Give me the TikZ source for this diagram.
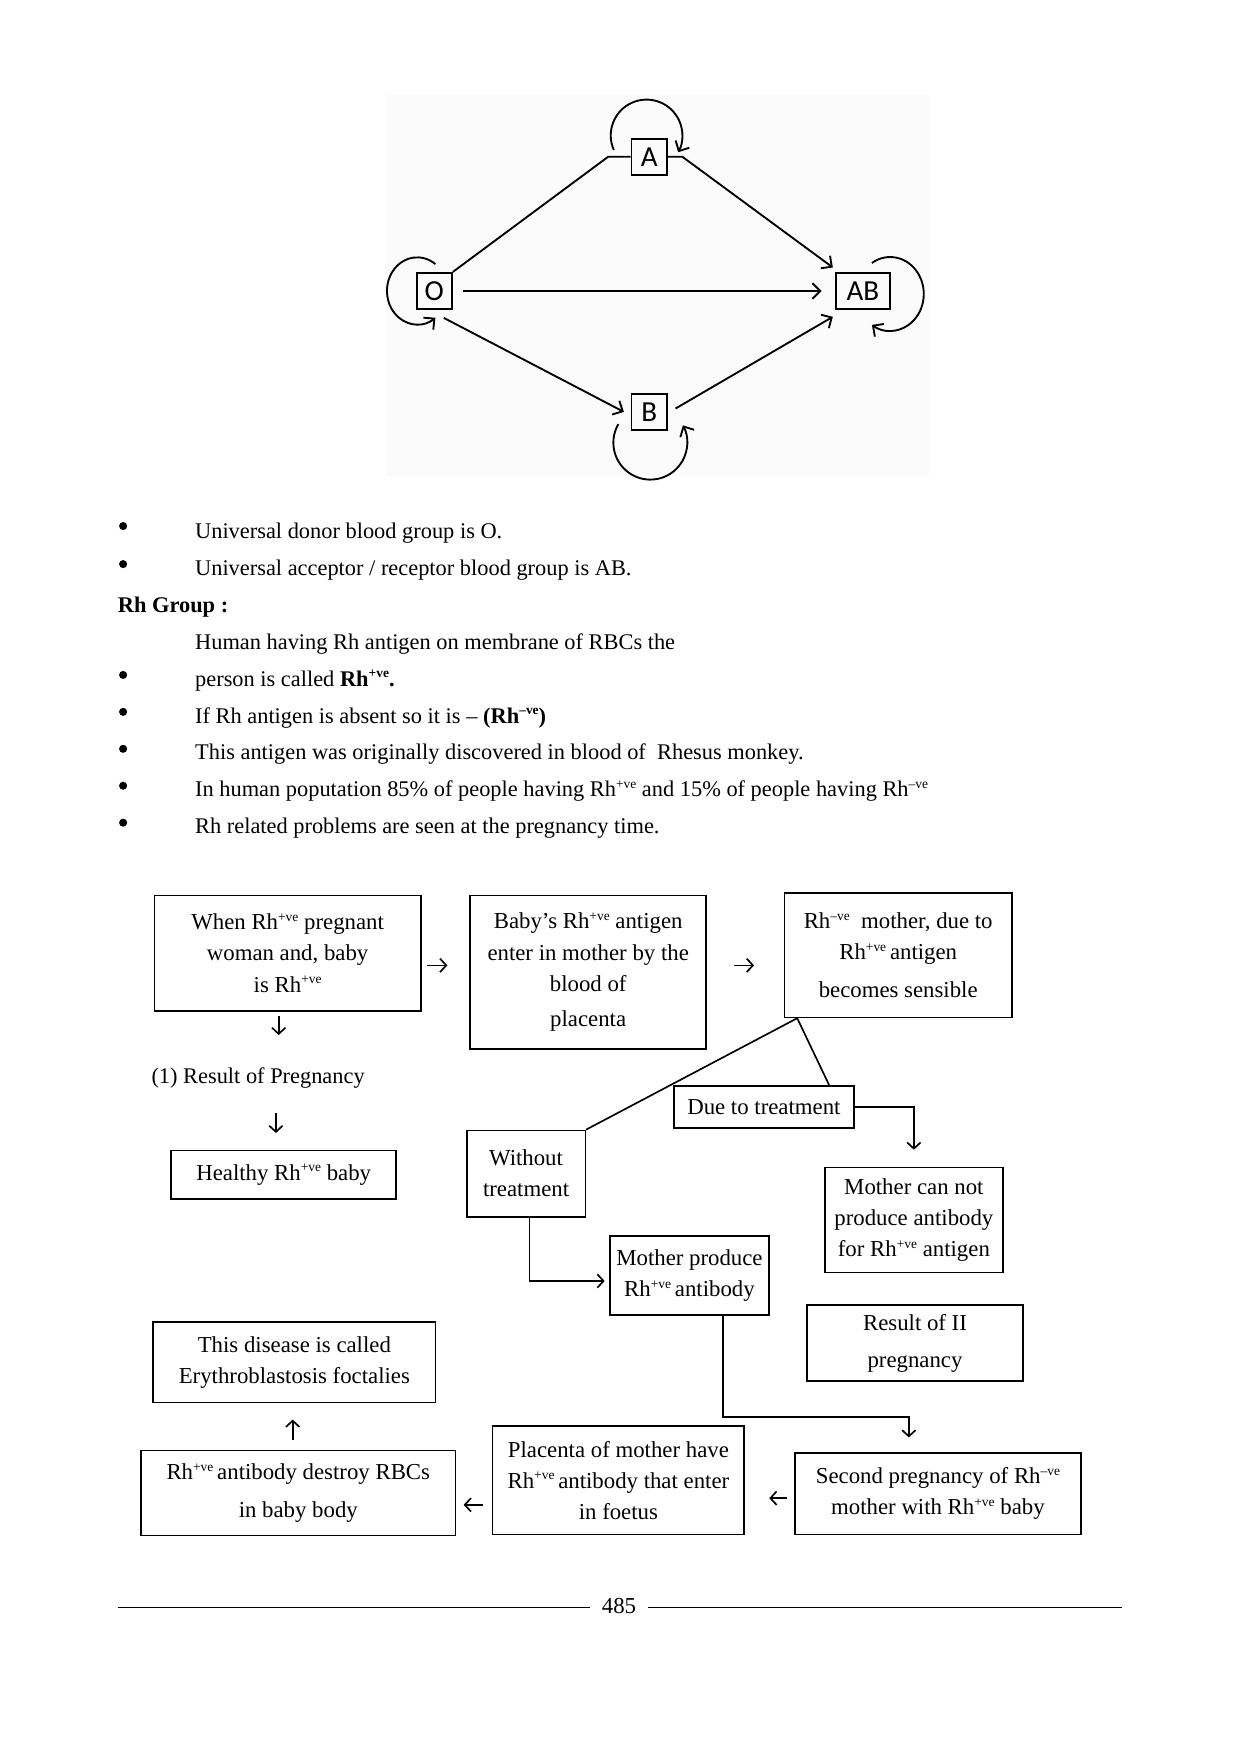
\documentclass[tikz,border=0pt]{standalone}
\usepackage{fontspec}
\setmainfont{Liberation Serif}
\newfontfamily\grpfont{Carlito}
\usetikzlibrary{positioning,calc,arrows.meta}
\newcommand{\up}[1]{\raisebox{0.8ex}{\fontsize{6.5}{7}\selectfont #1}}
\newcommand{\rhp}{Rh\up{+ve}}
\newcommand{\rhn}{Rh\up{--ve}}

\begin{document}
\begin{tikzpicture}[x=0.54pt, y=0.54pt,
    grp/.style={draw, line width=0.9pt, font=\grpfont\fontsize{14}{16}\selectfont, minimum width=17pt, minimum height=17.5pt, inner sep=2pt},
    flow/.style={draw, line width=0.8pt, inner sep=0pt, align=center, font=\fontsize{11}{15}\selectfont},
    txt/.style={anchor=base west, inner sep=0pt, font=\fontsize{10.8}{13}\selectfont},
    dot/.style={circle, fill, inner sep=0pt, minimum size=3.9pt},
    arr/.style={-{Straight Barb[length=3pt,width=6.5pt]}, line width=0.8pt},
    garr/.style={-{Straight Barb[length=3.8pt,width=7.5pt]}, line width=0.9pt}]
            \fill[white] (0,0) rectangle (1107.5,-1568);
            \useasboundingbox (0,0) rectangle (1107.5,-1568);
            \fill[black!1.5] (345,-85) rectangle (830,-425);

            % blood groups
            \node (A) [grp] at (580,-140) {A};
            \node (O) [grp] at (388,-260) {O};
            \node (AB) [grp, minimum width=26pt] at (771,-260) {AB};
            \node (B) [grp] at (580,-368) {B};

            \draw [line width=0.9pt] (O.north east) -- ([shift={(-20,0)}]A.west) -- (A.west);
            \draw [garr] (A.east) -- ([shift={(13,0)}]A.east) -- ([shift={(-2,4)}]AB.north west);
            \draw [garr] ([shift={(9,0)}]O.east) -- ([shift={(-12,0)}]AB.west);
            \draw [garr] ([shift={(-8,-7)}]O.south east) -- ([shift={(-6,0)}]B.west);
            \draw [garr] ([shift={(7,3)}]B.east) -- ([shift={(-2,-6)}]AB.south west);

            \draw [garr] ([shift={(-15,6)}]A.west) arc [start angle=204, end angle=-28, radius=32];
            \draw [garr] ([shift={(1,7)}]O.north) arc [start angle=53, end angle=307, x radius=27, y radius=30];
            \draw [garr] ([shift={(8,8)}]AB.north) arc [start angle=123, end angle=-123, x radius=30, y radius=33];
            \draw [garr] ([shift={(-11,-11)}]B.west) arc [start angle=150, end angle=388, radius=33];

            % text
            \foreach \y in {470,504,603,636,669,702,735}
                \node (bul\y) [dot] at (110,-\y) {};
            \node (t1) [txt] at (174,-481) {Universal donor blood group is O.};
            \node (t2) [txt] at (174,-514) {Universal acceptor / receptor blood group is AB.};
            \node (t3) [txt] at (105,-547) {\textbf{Rh Group :}};
            \node (t4) [txt] at (174,-580) {Human having Rh antigen on membrane of RBCs the};
            \node (t5) [txt] at (174,-613) {person is called \textbf{\rhp.}};
            \node (t6) [txt] at (174,-646) {If Rh antigen is absent so it is -- \textbf{(\rhn)}};
            \node (t7) [txt] at (174,-679) {This antigen was originally discovered in blood of\ \ Rhesus monkey.};
            \node (t8) [txt] at (174,-712) {In human poputation 85\% of people having \rhp{} and 15\% of people having \rhn};
            \node (t9) [txt] at (174,-745) {Rh related problems are seen at the pregnancy time.};

            % flow chart
            \node (b1) [flow, minimum width=128.5pt, minimum height=55.6pt] at (257,-851.5) {When \rhp{} pregnant\\woman and, baby\\is \rhp};
            \node (b2) [flow, minimum width=113.9pt, minimum height=74pt] at (525.5,-868.5) {Baby’s \rhp{} antigen\\enter in mother by the\\blood of\\[2pt]placenta};
            \node (b3) [flow, minimum width=109.6pt, minimum height=59.9pt] at (802.5,-853.5) {\rhn\ \ mother, due to\\\rhp\,antigen\\[3pt]becomes sensible};
            \node (res1) [txt, anchor=west] at (135,-963) {(1) Result of Pregnancy};
            \node (hb) [flow, minimum width=108.5pt, minimum height=23.2pt] at (253.5,-1049.5) {Healthy \rhp{} baby};
            \node (wt) [flow, minimum width=57.2pt, minimum height=41.6pt] at (470,-1048.5) {Without\\treatment};
            \node (dt) [flow, minimum width=86.9pt, minimum height=20.5pt] at (682.5,-989) {Due to treatment};
            \node (mc) [flow, minimum width=85.9pt, minimum height=50.8pt] at (816.5,-1090) {Mother can not\\produce antibody\\for \rhp{} antigen};
            \node (mp) [flow, minimum width=76.7pt, minimum height=38.3pt] at (616,-1139.5) {Mother produce\\\rhp\,antibody};
            \node (r2) [flow, minimum width=104.2pt, minimum height=36.7pt] at (817.5,-1200) {Result of II\\[3pt]pregnancy};
            \node (dis) [flow, minimum width=136.1pt, minimum height=38.9pt] at (263,-1217) {This disease is called\\Erythroblastosis foctalies};
            \node (db) [flow, minimum width=151.7pt, minimum height=41pt] at (266.5,-1334) {\rhp\,antibody destroy RBCs\\[3pt]in baby body};
            \node (pl) [flow, minimum width=121.5pt, minimum height=52.4pt] at (552.5,-1322.5) {Placenta of mother have\\\rhp\,antibody that enter\\in foetus};
            \node (sp) [flow, minimum width=138.2pt, minimum height=39.4pt] at (838,-1334.5) {Second pregnancy of \rhn\\mother with \rhp{} baby};

            \draw [arr] ([shift={(5,-11)}]b1.east) -- ++(18,0);
            \draw [arr] ([shift={(24,6)}]b2.east) -- ++(18,0);
            \draw [arr] ([shift={(-8,-4)}]b1.south) -- ++(0,-17);
            \draw [arr] ([shift={(-7,33)}]hb.north) -- ([shift={(-7,15)}]hb.north);

            \coordinate (fork) at ([shift={(12,0)}]b3.south west);
            \draw [line width=0.8pt] (fork) -- (wt.north east);
            \draw [line width=0.8pt] (fork) -- ([shift={(-23,0)}]dt.north east);
            \draw [arr] (dt.east) -| ([shift={(0,15)}]mc.north);
            \draw [arr] ([shift={(3,0)}]wt.south) |- ([shift={(-4,-5)}]mp.west);
            \draw [arr] ([shift={(30,0)}]mp.south) |- ([shift={(-26,31)}]sp.north) -- ([shift={(-26,13)}]sp.north);

            \draw [arr] ([shift={(-6,-4)}]sp.west) -- ++(-16,0);
            \draw [arr] ([shift={(-8,-22)}]pl.west) -- ++(-17,0);
            \draw [arr] ([shift={(-5,9)}]db.north) -- ++(0,18);

            % page number
            \node (pg) [font=\fontsize{11}{13}\selectfont] at (553,-1435) {485};
            \coordinate (fl) at (105,-1436);
            \coordinate (fr) at (1002,-1436);
            \draw [line width=0.6pt] (fl) -- ([shift={(-4,0)}]fl -| pg.west);
            \draw [line width=0.6pt] (fr) -- ([shift={(4,0)}]fr -| pg.east);
\end{tikzpicture}
\end{document}
